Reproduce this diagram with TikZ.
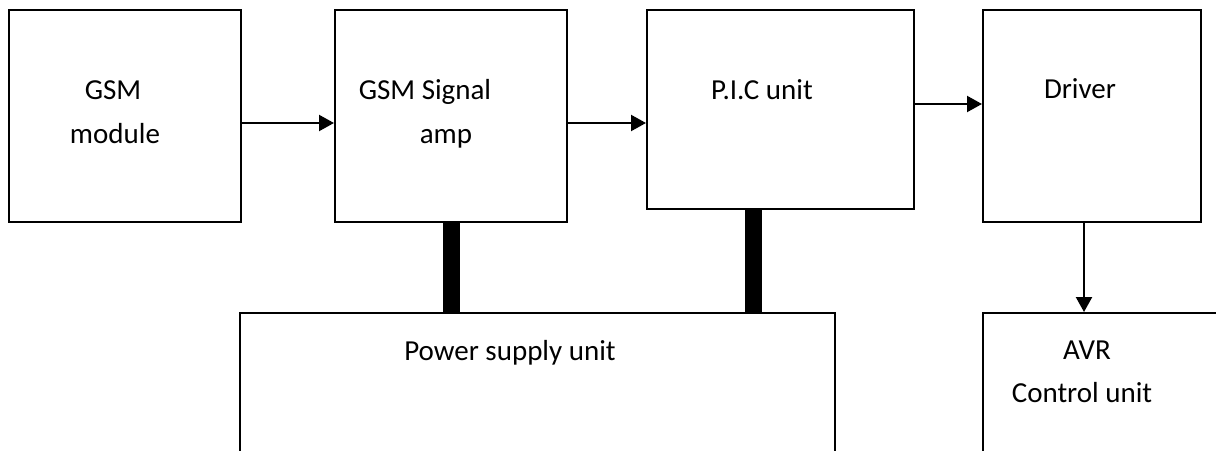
\documentclass[tikz,border=0pt]{standalone}
\usepackage{fontspec}
\setmainfont{Carlito}
\usetikzlibrary{arrows.meta}
\usetikzlibrary{positioning}
\tikzset{
    blockbox/.style={
        draw=black,
        line width=2pt,
        rectangle,
        inner sep=0pt,
    },
    blocktext/.style={
        anchor=base,
        inner sep=0pt,
        font=\fontsize{29}{34}\selectfont,
    },
    flow/.style={
        line width=2.2pt,
        -{Triangle[length=15pt,width=16pt]},
    },
    powerbar/.style={
        line width=17pt,
    },
}

\begin{document}
\begin{tikzpicture}[x=1pt, y=-1pt]
        \useasboundingbox (0,0) rectangle (1216,450);
        \fill[white] (0,0) rectangle (1216,450);
        \clip (0,0) rectangle (1216,450);

        % blocks
        \node[blockbox, minimum width=232pt, minimum height=212pt] (gsm) at (125,116) {};
        \node[blockbox, minimum width=232pt, minimum height=212pt] (amp) at (451,116) {};
        \node[blockbox, minimum width=267pt, minimum height=199pt] (pic) at (780.5,109.5) {};
        \node[blockbox, minimum width=218pt, minimum height=212pt] (drv) at (1092,116) {};
        \node[blockbox, minimum width=595pt, minimum height=160pt] (psu) at (537.5,393) {};
        \node[blockbox, minimum width=260pt, minimum height=160pt] (avr) at (1113,393) {};

        % labels
        \node[blocktext] (gsmA) at (113,99) {GSM};
        \node[blocktext] (gsmB) at (115,143) {module};
        \node[blocktext] (ampA) at (425,99) {GSM Signal};
        \node[blocktext] (ampB) at (446,143) {amp};
        \node[blocktext] (picA) at (762,99) {P.I.C unit};
        \node[blocktext] (drvA) at (1080,98) {Driver};
        \node[blocktext] (psuA) at (510,360) {Power supply unit};
        \node[blocktext] (avrA) at (1087,359) {AVR};
        \node[blocktext] (avrB) at (1082,402) {Control unit};

        % signal path
        \draw[flow] ([yshift=-7pt]gsm.east) -- ([yshift=-7pt]gsm.east -| amp.west);
        \draw[flow] ([yshift=-7pt]amp.east) -- ([yshift=-7pt]amp.east -| pic.west);
        \draw[flow] ([yshift=5.5pt]pic.east) -- ([yshift=5.5pt]pic.east -| drv.west);
        \draw[flow] ([xshift=-8pt]drv.south) -- ([xshift=-8pt]drv.south |- avr.north);

        % supply rails
        \draw[powerbar] (amp.south) -- (amp.south |- psu.north);
        \draw[powerbar] ([xshift=-27pt]pic.south) -- ([xshift=-27pt]pic.south |- psu.north);
\end{tikzpicture}
\end{document}
